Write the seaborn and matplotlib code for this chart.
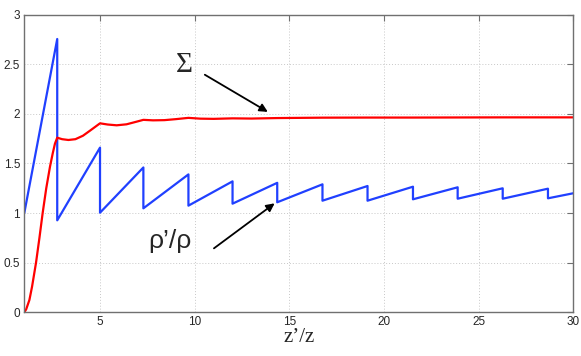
import numpy as np
import pandas as pd
import matplotlib
matplotlib.use("Agg")
import matplotlib.pyplot as plt
import seaborn as sns

# rho'/rho sawtooth (vertices)
rho_x = [1.0, 2.74, 2.74, 5.0, 5.0, 7.29, 7.29, 9.67, 9.67, 12.0, 12.0, 14.36, 14.36,
         16.75, 16.75, 19.13, 19.13, 21.53, 21.53, 23.89, 23.89, 26.27, 26.27,
         28.66, 28.66, 30.0]
rho_y = [1.0, 2.755, 0.927, 1.66, 1.004, 1.46, 1.048, 1.39, 1.075, 1.32, 1.095, 1.305,
         1.109, 1.29, 1.125, 1.273, 1.125, 1.266, 1.139, 1.26, 1.145, 1.25, 1.145,
         1.246, 1.149, 1.2]

# Sigma curve
sig_x = [1.0, 1.1, 1.27, 1.41, 1.62, 1.8, 1.97, 2.16, 2.36, 2.5, 2.62, 2.74, 3.0, 3.33,
         3.7, 4.1, 4.5, 5.0, 5.4, 5.88, 6.4, 6.9, 7.29, 7.8, 8.4, 9.0, 9.67, 10.3,
         11.0, 12.0, 13.0, 14.36, 16.75, 19.13, 21.53, 23.89, 26.27, 28.66, 30.0]
sig_y = [0.0, 0.03, 0.124, 0.258, 0.5, 0.75, 1.0, 1.25, 1.47, 1.6, 1.7, 1.76, 1.745,
         1.737, 1.745, 1.78, 1.835, 1.905, 1.893, 1.885, 1.895, 1.92, 1.94, 1.935,
         1.937, 1.947, 1.96, 1.952, 1.95, 1.955, 1.953, 1.958, 1.962, 1.963, 1.963,
         1.964, 1.965, 1.965, 1.965]

x_ticks = [5, 10, 15, 20, 25, 30]
y_ticks = [0, 0.5, 1, 1.5, 2, 2.5, 3]

sns.set_style("whitegrid")
plt.rcParams['font.family'] = ['Liberation Sans', 'DejaVu Sans']

fig = plt.figure(figsize=(5.81, 3.56), dpi=100)
ax = fig.add_axes([0.0418, 0.1228, 0.9450, 0.8359])

rho_df = pd.DataFrame({'x': rho_x, 'y': rho_y})
sig_df = pd.DataFrame({'x': sig_x, 'y': sig_y})
sns.lineplot(data=rho_df, x='x', y='y', sort=False, estimator=None, ax=ax,
             color='#2040ff', linewidth=1.6)
sns.lineplot(data=sig_df, x='x', y='y', sort=False, estimator=None, ax=ax,
             color='#ff0000', linewidth=1.6)

ax.set_xlim(1, 30)
ax.set_ylim(0, 3)
ax.set_xticks(x_ticks)
ax.set_yticks(y_ticks)
ax.set_xticklabels([str(t) for t in x_ticks])
ax.set_yticklabels(['0', '0.5', '1', '1.5', '2', '2.5', '3'])
ax.grid(True, color='#c8c8c8', linestyle=(0, (1, 2)), linewidth=0.7)
for s in ax.spines.values():
    s.set_visible(True)
    s.set_color('#707070')
    s.set_linewidth(1.0)
ax.tick_params(direction='in', top=True, right=True, length=4, width=0.8,
               color='#707070', labelsize=8.5, pad=3)
ax.set_ylabel('')
ax.set_xlabel('z\u2019/z', family=['Liberation Serif', 'DejaVu Serif'],
              fontsize=15, labelpad=0)

ax.annotate('', xy=(13.99, 2.006), xytext=(10.41, 2.409),
            arrowprops=dict(arrowstyle='-|>', color='k', lw=1.3, mutation_scale=12))
ax.annotate('', xy=(14.34, 1.115), xytext=(10.9, 0.628),
            arrowprops=dict(arrowstyle='-|>', color='k', lw=1.3, mutation_scale=12))
ax.text(9.47, 2.49, '\u03a3', family=['Liberation Serif', 'DejaVu Serif'],
        fontsize=21, ha='center', va='center')
ax.text(8.70, 0.72, '\u03c1\u2019/\u03c1', fontsize=19, ha='center', va='center')

fig.savefig('out.png', dpi=100)
